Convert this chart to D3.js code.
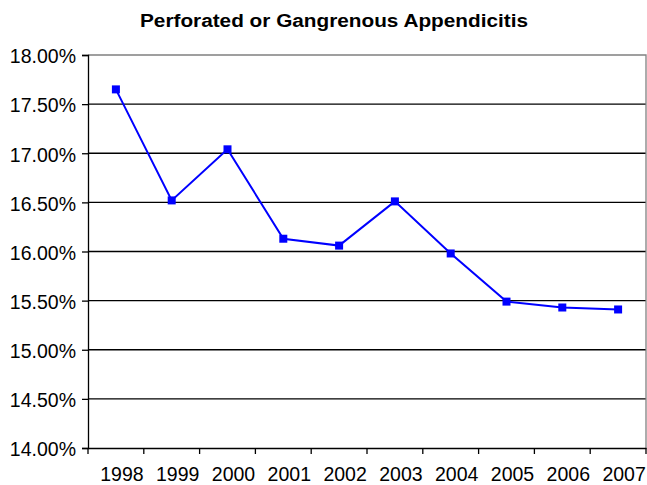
<!DOCTYPE html>
<html>
<head>
<meta charset="utf-8">
<script src="https://d3js.org/d3.v7.min.js"></script>
<style>
  body { margin: 0; background: #fff; }
  text { font-family: "Liberation Sans", Arial, sans-serif; fill: #000; }
</style>
</head>
<body>
  <div id="chart"></div>
  <script>
    var years = ["1998","1999","2000","2001","2002","2003","2004","2005","2006","2007"];
    var rates = [17.65, 16.52, 17.04, 16.13, 16.06, 16.51, 15.98, 15.49, 15.43, 15.41];
    var yTicks = [14, 14.5, 15, 15.5, 16, 16.5, 17, 17.5, 18];
    var title = "Perforated or Gangrenous Appendicitis";

    var W = 647, H = 485;
    var margin = {top: 55, right: 1, bottom: 37, left: 88};
    var width = W - margin.left - margin.right,
        height = H - margin.top - margin.bottom;

    var svg = d3.select("#chart").append("svg")
      .attr("width", W).attr("height", H);

    // title is stretched wide in the original
    svg.append("text")
      .attr("x", 140).attr("y", 27)
      .attr("textLength", 388).attr("lengthAdjust", "spacingAndGlyphs")
      .style("font-size", "18px").style("font-weight", "bold")
      .text(title);

    var g = svg.append("g")
      .attr("transform", "translate(" + margin.left + "," + margin.top + ")");

    var x = d3.scaleBand().domain(years).range([0, width]);
    var y = d3.scaleLinear().domain([14, 18]).range([height, 0]);

    // gridlines
    g.selectAll(".grid").data(yTicks.slice(1, -1)).enter().append("line")
      .attr("x1", 0).attr("x2", width)
      .attr("y1", function(d) { return y(d); })
      .attr("y2", function(d) { return y(d); })
      .attr("stroke", "#000").attr("stroke-width", 1.3);

    // plot border (top/right)
    g.append("path")
      .attr("d", "M0," + y(18) + "H" + width + "V" + height)
      .attr("fill", "none").attr("stroke", "#808080").attr("stroke-width", 1.3);

    // y axis
    var yAxis = g.append("g")
      .call(d3.axisLeft(y).tickValues(yTicks).tickSize(6).tickPadding(6)
        .tickFormat(function(d) { return d.toFixed(2) + "%"; }));
    yAxis.select(".domain").attr("stroke", "#000").attr("stroke-width", 1.3);
    yAxis.selectAll(".tick line").attr("stroke", "#000").attr("stroke-width", 1.3);
    yAxis.selectAll("text").style("font-size", "19.5px")
      .attr("font-family", null).attr("dy", "0.4em");

    // x axis
    var xAxis = g.append("g")
      .attr("transform", "translate(0," + height + ")")
      .call(d3.axisBottom(x).tickSize(0).tickPadding(0));
    xAxis.select(".domain").attr("stroke", "#000").attr("stroke-width", 1.3);
    xAxis.selectAll("text").style("font-size", "19.5px")
      .attr("font-family", null)
      .attr("x", 6).attr("y", 33).attr("dy", null);
    xAxis.selectAll(".tick line").remove();
    var bounds = years.map(function(d) { return x(d); }).concat([width]);
    xAxis.selectAll(".sep").data(bounds).enter().append("line")
      .attr("x1", function(d) { return d; }).attr("x2", function(d) { return d; })
      .attr("y1", 0).attr("y2", 6)
      .attr("stroke", "#000").attr("stroke-width", 1.3);

    var cx = function(d, i) { return x(years[i]) + x.bandwidth() / 2; };

    var line = d3.line()
      .x(function(d, i) { return cx(d, i); })
      .y(function(d) { return y(d); });

    g.append("path").datum(rates)
      .attr("d", line)
      .attr("fill", "none").attr("stroke", "#0000FF").attr("stroke-width", 2);

    g.selectAll(".pt").data(rates).enter().append("rect")
      .attr("x", function(d, i) { return cx(d, i) - 4; })
      .attr("y", function(d) { return y(d) - 4; })
      .attr("width", 8).attr("height", 8)
      .attr("fill", "#0000FF");
  </script>
</body>
</html>
